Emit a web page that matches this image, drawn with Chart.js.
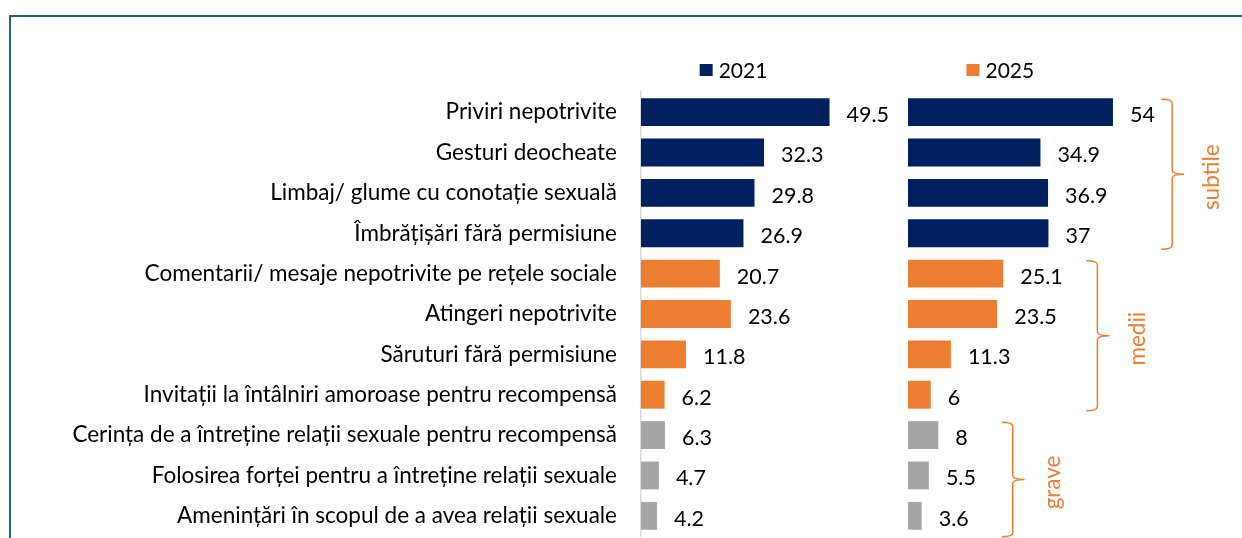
<!DOCTYPE html>
<html>
<head>
<meta charset="utf-8">
<script src="https://cdn.jsdelivr.net/npm/chart.js@4"></script>
<style>
  body { margin: 0; background: #fff; width: 1242px; height: 538px; overflow: hidden; position: relative; }
  .frame { position: absolute; left: 9px; top: 15px; width: 1300px; height: 600px;
           border-left: 2px solid #2E5C8A; border-top: 2px solid #2E5C8A; }
  .box { position: absolute; top: 0; height: 538px; }
</style>
</head>
<body>
<div class="frame"></div>
<div class="box" style="left:0;width:900px"><canvas id="chart2021"></canvas></div>
<div class="box" style="left:908px;width:334px"><canvas id="chart2025"></canvas></div>
<script>
// date
const categories = [
  'Priviri nepotrivite',
  'Gesturi deocheate',
  'Limbaj/ glume cu conotație sexuală',
  'Îmbrățișări fără permisiune',
  'Comentarii/ mesaje nepotrivite pe rețele sociale',
  'Atingeri nepotrivite',
  'Săruturi fără permisiune',
  'Invitații la întâlniri amoroase pentru recompensă',
  'Cerința de a întreține relații sexuale pentru recompensă',
  'Folosirea forței pentru a întreține relații sexuale',
  'Amenințări în scopul de a avea relații sexuale'
];
const values2021 = [49.5, 32.3, 29.8, 26.9, 20.7, 23.6, 11.8, 6.2, 6.3, 4.7, 4.2];
const values2025 = [54, 34.9, 36.9, 37, 25.1, 23.5, 11.3, 6, 8, 5.5, 3.6];
const seriesNames = ['2021', '2025'];
const groupNames = ['subtile', 'medii', 'grave'];
const groupOf = [0, 0, 0, 0, 1, 1, 1, 1, 2, 2, 2];

// stil
const groupColors = ['#002060', '#ED7D31', '#A5A5A5'];
const barColors = groupOf.map(g => groupColors[g]);
const FONT = 'Lato';

// etichete cu valori la capatul barelor
const valueLabels = {
  id: 'valueLabels',
  afterDatasetsDraw(chart) {
    const ctx = chart.ctx;
    const meta = chart.getDatasetMeta(0);
    const vals = chart.data.datasets[0].data;
    ctx.save();
    ctx.font = '21.5px ' + FONT;
    ctx.fillStyle = '#000';
    ctx.textAlign = 'left';
    ctx.textBaseline = 'middle';
    meta.data.forEach((bar, i) => {
      ctx.fillText(String(vals[i]), bar.x + 17, bar.y + 3);
    });
    ctx.restore();
  }
};

// legenda mica deasupra fiecarui panou
const legendMark = {
  id: 'legendMark',
  afterDraw(chart, args, opts) {
    const ctx = chart.ctx;
    const x = chart.scales.x.getPixelForValue(opts.at);
    ctx.save();
    ctx.fillStyle = opts.color;
    ctx.fillRect(x, 64, 13, 12);
    ctx.font = '21px ' + FONT;
    ctx.fillStyle = '#000';
    ctx.textBaseline = 'middle';
    ctx.fillText(opts.label, x + 19, 71);
    ctx.restore();
  }
};

// acolade pentru grupe (subtile / medii / grave)
const braceAt = [66.7, 47, 24.7];
const groupBraces = {
  id: 'groupBraces',
  afterDraw(chart) {
    const ctx = chart.ctx;
    const bars = chart.getDatasetMeta(0).data;
    ctx.save();
    ctx.strokeStyle = '#ED7D31';
    ctx.lineWidth = 1.5;
    groupNames.forEach((name, g) => {
      const idx = groupOf.map((v, i) => v === g ? i : -1).filter(i => i >= 0);
      const first = bars[idx[0]], last = bars[idx[idx.length - 1]];
      const top = first.y - first.height / 2 + 1;
      const bottom = last.y + last.height / 2 + (g === 2 ? 7 : 2);
      const mid = (top + bottom) / 2;
      const x0 = chart.scales.x.getPixelForValue(braceAt[g]);
      const x1 = x0 + 11, x2 = x0 + 23;
      ctx.beginPath();
      ctx.moveTo(x0, top);
      ctx.quadraticCurveTo(x1, top, x1, top + 4);
      ctx.lineTo(x1, mid - 4);
      ctx.quadraticCurveTo(x1, mid, x2, mid);
      ctx.quadraticCurveTo(x1, mid, x1, mid + 4);
      ctx.lineTo(x1, bottom - 4);
      ctx.quadraticCurveTo(x1, bottom, x0, bottom);
      ctx.stroke();

      ctx.save();
      ctx.translate(x0 + 51, mid + 3);
      ctx.rotate(-Math.PI / 2);
      ctx.font = '22.5px ' + FONT;
      ctx.fillStyle = '#ED7D31';
      ctx.textAlign = 'center';
      ctx.textBaseline = 'middle';
      ctx.fillText(name, 0, 0);
      ctx.restore();
    });
    ctx.restore();
  }
};

function baseOptions(max, legendLabel, legendColor) {
  return {
    indexAxis: 'y',
    responsive: true,
    maintainAspectRatio: false,
    animation: false,
    layout: { padding: { top: 92, bottom: 2, left: 0, right: 0 } },
    plugins: {
      legend: { display: false },
      tooltip: { enabled: false },
      legendMark: { label: legendLabel, color: legendColor, at: 15.4 }
    },
    scales: {
      x: { display: false, min: 0, max: max }
    }
  };
}

const opt2021 = baseOptions(68, seriesNames[0], groupColors[0]);
opt2021.scales.y = {
  grid: { display: false, drawTicks: false },
  border: { display: true, color: '#D9D9D9', width: 1.5 },
  ticks: { color: '#000', padding: 24, font: { family: FONT, size: 22.5 } },
  afterFit(scale) {
    scale.width = 641;
    scale.paddingTop = 0;
    scale.paddingBottom = 0;
  }
};

new Chart(document.getElementById('chart2021'), {
  type: 'bar',
  data: {
    labels: categories,
    datasets: [{
      label: seriesNames[0],
      data: values2021,
      backgroundColor: barColors,
      borderWidth: 0,
      categoryPercentage: 1,
      barPercentage: 0.69
    }]
  },
  options: opt2021,
  plugins: [valueLabels, legendMark]
});

const opt2025 = baseOptions(88, seriesNames[1], groupColors[1]);
opt2025.scales.y = { display: false };

new Chart(document.getElementById('chart2025'), {
  type: 'bar',
  data: {
    labels: categories,
    datasets: [{
      label: seriesNames[1],
      data: values2025,
      backgroundColor: barColors,
      borderWidth: 0,
      categoryPercentage: 1,
      barPercentage: 0.69
    }]
  },
  options: opt2025,
  plugins: [valueLabels, legendMark, groupBraces]
});
</script>
</body>
</html>
